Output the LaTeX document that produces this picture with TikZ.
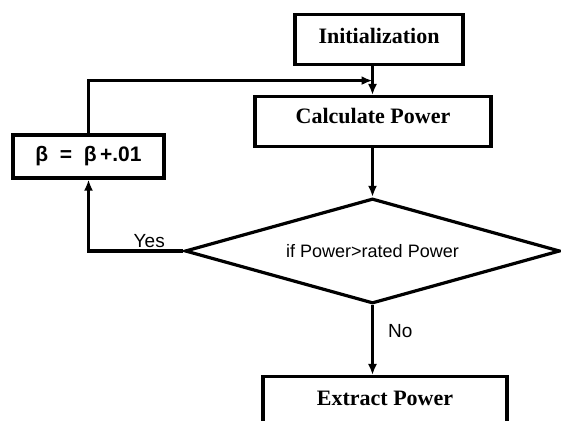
\documentclass[tikz,border=0pt]{standalone}
\usepackage{fontspec}
\setmainfont{Liberation Serif}
\setsansfont{Liberation Sans}
\usepackage{tikz}
\usetikzlibrary{positioning, shapes.geometric, arrows.meta, calc}

\begin{document}
\begin{tikzpicture}[x=0.5pt,y=-0.5pt,line width=1.6pt]
						\tikzstyle{block}=[rectangle,draw=black,font=\fontsize{11}{13}\selectfont\bfseries,inner ysep=0pt]
						\tikzstyle{decision}=[diamond,draw=black,aspect=3.6,inner sep=0pt,minimum width=187.5pt,minimum height=52.5pt,font=\sffamily\fontsize{9}{11}\selectfont]
						\tikzstyle{lbl}=[font=\sffamily\fontsize{9.5}{11}\selectfont,inner sep=1pt]
						\tikzstyle{arr}=[-{Latex[length=5.5pt,width=4.5pt]}]
						\path[use as bounding box,clip] (0,0) rectangle (561,421);
						\node[block,minimum width=84pt,text height=14.5pt,text depth=10.5pt](init) at (379,13) [anchor=north] {Initialization};
						\node[block,minimum width=118pt,text height=13.5pt,text depth=11.5pt](calc) at (373,95) [anchor=north] {Calculate Power};
						\node[block,font=\sffamily\bfseries\fontsize{10.5}{12}\selectfont,minimum width=75.5pt,minimum height=21.5pt](beta) at (88.5,156.5) {β~~=~~β\,+.01};
						\node[decision](dia) at (372.5,251) {if Power>rated Power};
						\node[block,minimum width=122pt,text height=14.5pt,text depth=30pt](ext) at (385,375) [anchor=north] {Extract Power};
						\coordinate (join) at ($(init.south)!0.5!(calc.north)$);
						\draw[arr](init.south -| dia.north) -- (calc.north -| dia.north);
						\draw[arr](beta.north) |- (join -| dia.north);
						\draw[arr](calc.south -| dia.north) -- (dia.north);
						\draw[arr](dia.west) -| node[lbl,above,pos=0.18]{Yes} (beta.south);
						\draw[arr](dia.south) -- node[lbl,right=6pt,pos=0.375]{No} (dia.south |- ext.north);
					\end{tikzpicture}
\end{document}
